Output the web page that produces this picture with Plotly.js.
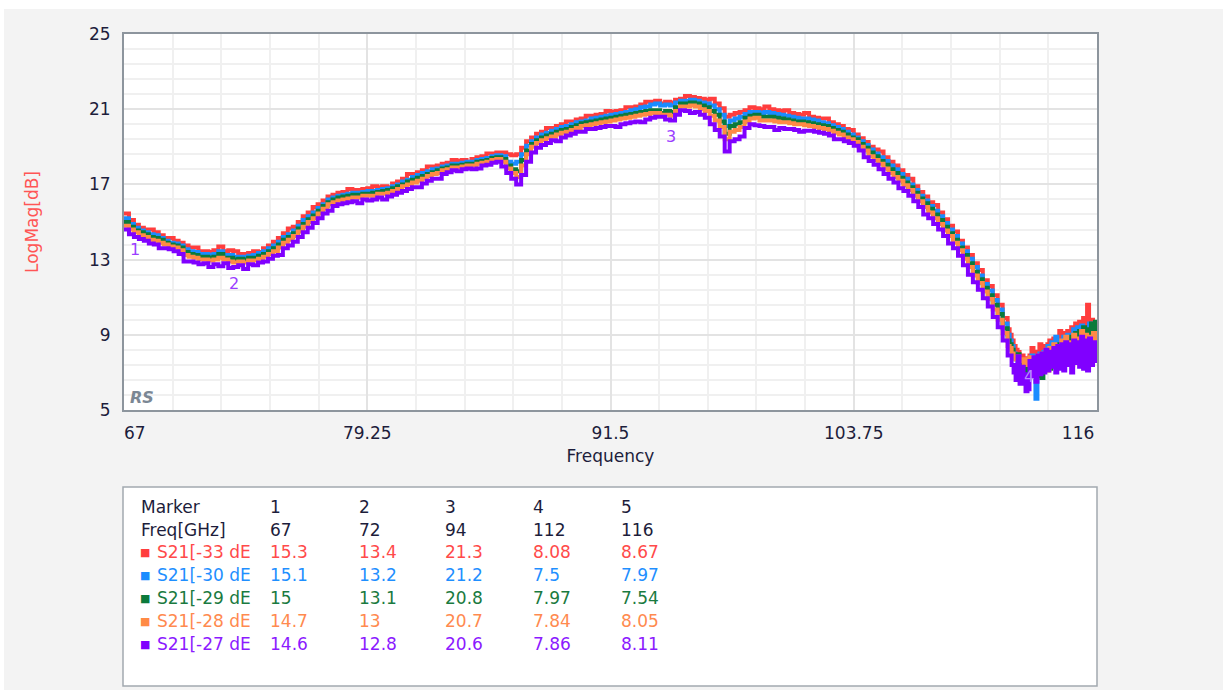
<!DOCTYPE html>
<html>
<head>
<meta charset="utf-8">
<script src="https://cdn.plot.ly/plotly-3.0.1.min.js"></script>
<style>
html,body{margin:0;padding:0;background:#ffffff;}
#chart{width:1223px;height:690px;}
</style>
</head>
<body>
<div id="chart"></div>
<script>
// ---- sweep definition (two segments: coarse main sweep, fine noisy tail) ----
const mainStart = 67, mainStep = 0.25;     // 67 .. 111.5
const tailStart = 111.6, tailStep = 0.1;   // 111.6 .. 116
const fMin = 67, fMax = 116;

// ---- trace values (dB) ----
const s21_m33_main = [
15.45,15.1,14.85,14.7,14.6,14.6,14.45,14.3,14.15,14.15,
14.0,13.9,13.75,13.65,13.65,13.45,13.45,13.4,13.5,13.7,
13.45,13.5,13.45,13.3,13.3,13.35,13.45,13.4,13.6,13.75,
13.95,14.15,14.4,14.65,14.75,15.0,15.3,15.5,15.8,15.95,
16.15,16.35,16.45,16.55,16.6,16.75,16.7,16.7,16.75,16.8,
16.9,16.85,16.9,16.85,17.05,17.15,17.3,17.55,17.55,17.65,
17.75,17.95,17.95,18.0,18.1,18.15,18.3,18.25,18.3,18.2,
18.35,18.45,18.5,18.65,18.65,18.7,18.7,18.6,18.55,18.6,
18.95,19.3,19.5,19.7,19.8,20.0,20.0,20.1,20.2,20.35,
20.35,20.45,20.5,20.65,20.65,20.7,20.75,20.9,20.85,20.9,
20.95,21.1,21.1,21.15,21.25,21.4,21.4,21.45,21.3,21.4,
21.35,21.5,21.55,21.7,21.65,21.6,21.55,21.5,21.55,21.3,
21.05,20.6,20.7,20.8,20.85,20.95,21.1,21.05,21.0,21.15,
21.0,20.95,20.9,20.95,20.8,20.75,20.7,20.8,20.6,20.55,
20.5,20.5,20.3,20.2,20.1,19.95,19.9,19.65,19.45,19.25,
19.0,18.85,18.75,18.45,18.2,18.0,17.75,17.5,17.3,16.9,
16.6,16.35,16.05,15.9,15.5,15.15,14.8,14.5,14.0,13.65,
13.25,12.8,12.45,11.9,11.6,11.1,10.6,9.9,9.3];
const s21_m33_tail = [
9.0,8.7,8.4,8.2,
8.08,7.8,7.9,7.7,7.75,7.6,7.9,8.3,7.8,8.1,
8.0,8.5,8.1,8.4,7.9,8.5,8.7,8.3,8.8,8.6,
8.7,9.2,8.8,9.1,8.5,9.2,9.0,9.4,8.7,9.6,
9.4,9.7,9.0,9.9,9.3,10.6,9.2,9.8,8.9,9.5,
8.67];

const s21_m30_main = [
15.2,14.9,14.7,14.55,14.45,14.35,14.3,14.15,14.0,13.9,
13.85,13.75,13.55,13.45,13.4,13.3,13.3,13.25,13.3,13.45,
13.25,13.25,13.15,13.15,13.15,13.2,13.25,13.35,13.45,13.6,
13.75,13.95,14.2,14.35,14.55,14.8,15.1,15.3,15.5,15.75,
15.95,16.2,16.3,16.4,16.45,16.5,16.55,16.55,16.6,16.65,
16.65,16.7,16.75,16.8,16.9,17.0,17.15,17.25,17.4,17.5,
17.6,17.7,17.8,17.85,17.95,18.0,18.1,18.1,18.15,18.2,
18.2,18.3,18.35,18.4,18.5,18.55,18.5,18.2,18.1,18.2,
18.6,19.05,19.3,19.5,19.65,19.75,19.85,19.95,20.05,20.1,
20.2,20.3,20.35,20.4,20.5,20.55,20.6,20.65,20.7,20.75,
20.8,20.85,20.95,21.0,21.1,21.15,21.25,21.3,21.2,21.25,
21.2,21.35,21.45,21.45,21.5,21.45,21.35,21.3,21.2,21.0,
20.7,20.1,20.4,20.5,20.6,20.75,20.85,20.85,20.8,20.85,
20.8,20.75,20.7,20.65,20.6,20.55,20.5,20.5,20.45,20.4,
20.3,20.25,20.15,20.05,19.95,19.8,19.65,19.5,19.3,19.1,
18.85,18.65,18.45,18.25,18.0,17.8,17.55,17.3,17.0,16.7,
16.4,16.15,15.85,15.6,15.3,14.95,14.6,14.25,13.85,13.45,
13.05,12.6,12.15,11.7,11.35,10.85,10.35,9.6,9.0];
const s21_m30_tail = [
8.7,8.4,8.0,7.8,
7.5,7.3,7.6,7.1,7.4,7.0,7.6,7.9,7.3,5.6,
7.6,8.0,7.5,8.1,7.7,8.4,8.0,8.6,8.2,8.9,
8.3,8.7,8.1,8.9,8.4,9.0,8.6,8.4,9.3,8.7,
9.4,8.8,9.5,8.6,9.3,8.5,9.6,8.8,9.2,8.4,
7.97];

const s21_m29_main = [
15.0,14.75,14.55,14.45,14.35,14.2,14.15,14.05,13.9,13.8,
13.75,13.65,13.4,13.3,13.25,13.15,13.15,13.1,13.15,13.3,
13.1,13.1,13.0,13.05,13.0,13.1,13.1,13.2,13.3,13.45,
13.6,13.8,14.05,14.2,14.4,14.65,14.9,15.15,15.35,15.6,
15.85,16.05,16.2,16.3,16.35,16.4,16.45,16.45,16.5,16.5,
16.55,16.6,16.65,16.7,16.8,16.9,17.0,17.15,17.25,17.35,
17.45,17.55,17.65,17.75,17.85,17.9,18.0,18.0,18.05,18.1,
18.1,18.2,18.25,18.3,18.4,18.45,18.35,18.0,17.8,17.7,
18.3,18.8,19.15,19.35,19.5,19.6,19.7,19.8,19.9,19.95,
20.05,20.15,20.25,20.3,20.35,20.4,20.45,20.5,20.55,20.6,
20.65,20.7,20.75,20.8,20.85,20.9,20.95,20.95,20.8,20.9,
20.85,21.1,21.3,21.3,21.35,21.3,21.2,21.1,20.9,20.7,
20.35,19.7,20.1,20.2,20.3,20.55,20.65,20.7,20.6,20.6,
20.6,20.55,20.5,20.45,20.4,20.35,20.35,20.3,20.25,20.2,
20.15,20.1,20.0,19.9,19.8,19.65,19.5,19.4,19.15,18.95,
18.7,18.5,18.25,18.05,17.8,17.6,17.35,17.1,16.85,16.55,
16.25,16.0,15.7,15.4,15.1,14.75,14.4,14.05,13.65,13.25,
12.8,12.35,11.95,11.5,11.1,10.6,10.1,9.35,8.7];
const s21_m29_tail = [
8.5,8.2,7.9,7.7,
7.97,7.4,7.2,7.5,7.0,7.3,6.9,7.6,7.1,7.5,
6.8,7.7,6.7,7.9,7.4,8.1,7.2,8.2,7.7,8.4,
7.8,8.5,7.9,8.6,8.1,8.8,8.0,8.9,8.3,9.1,
8.4,9.2,8.2,9.4,8.5,9.3,8.1,9.6,8.7,9.7,
7.54];

const s21_m28_main = [
14.8,14.6,14.45,14.3,14.2,14.05,14.0,13.9,13.8,13.7,
13.65,13.5,13.25,13.15,13.1,13.0,13.0,12.95,13.0,13.1,
13.0,12.9,12.85,12.9,12.85,12.95,12.95,13.05,13.15,13.3,
13.45,13.65,13.9,14.05,14.25,14.5,14.75,15.0,15.2,15.45,
15.7,15.95,16.05,16.15,16.2,16.25,16.3,16.3,16.4,16.4,
16.4,16.5,16.5,16.55,16.65,16.75,16.9,17.0,17.1,17.2,
17.3,17.45,17.55,17.6,17.75,17.8,17.9,17.9,17.95,18.0,
18.0,18.1,18.15,18.2,18.3,18.35,18.2,17.85,17.6,17.4,
18.0,18.6,19.0,19.2,19.35,19.45,19.55,19.65,19.75,19.8,
19.9,20.0,20.1,20.15,20.2,20.25,20.3,20.35,20.4,20.45,
20.5,20.55,20.6,20.65,20.7,20.75,20.8,20.8,20.7,20.7,
20.65,20.9,21.15,21.15,21.2,21.15,21.0,20.9,20.65,20.4,
20.05,19.4,19.8,19.9,20.05,20.35,20.5,20.55,20.4,20.4,
20.4,20.35,20.3,20.3,20.25,20.2,20.2,20.15,20.1,20.05,
20.0,19.95,19.85,19.75,19.65,19.5,19.4,19.25,19.0,18.8,
18.5,18.3,18.1,17.85,17.6,17.4,17.2,16.95,16.7,16.4,
16.1,15.8,15.5,15.2,14.9,14.55,14.25,13.9,13.5,13.05,
12.6,12.15,11.75,11.3,10.9,10.35,9.8,9.1,8.4];
const s21_m28_tail = [
8.3,8.0,7.8,7.7,
7.84,7.6,7.7,7.5,7.7,7.4,7.8,7.1,7.7,7.3,
7.9,7.2,8.0,7.4,8.2,7.1,8.3,7.6,8.5,7.3,
8.4,7.8,8.7,7.5,8.9,7.9,8.6,7.4,9.0,8.0,
8.8,7.6,9.2,8.1,9.0,7.5,8.9,7.9,9.1,8.3,
8.05];

const s21_m27_main = [
14.6,14.35,14.2,14.1,14.0,13.85,13.8,13.6,13.6,13.55,
13.45,13.3,12.9,12.9,12.85,12.75,12.8,12.6,12.75,12.65,
12.8,12.55,12.6,12.7,12.5,12.75,12.7,12.85,12.9,13.05,
13.2,13.25,13.6,13.75,13.95,14.2,14.45,14.7,14.95,15.2,
15.45,15.6,15.85,15.95,16.0,16.05,16.1,16.0,16.2,16.15,
16.2,16.3,16.2,16.35,16.45,16.55,16.65,16.75,16.85,16.85,
17.05,17.2,17.3,17.3,17.55,17.65,17.75,17.7,17.8,17.85,
17.8,17.85,18.0,18.05,18.15,18.2,17.95,17.6,17.3,17.0,
17.5,18.2,18.7,18.95,19.1,19.2,19.35,19.3,19.5,19.6,
19.7,19.8,19.8,19.95,19.95,20.0,20.05,20.1,20.1,20.05,
20.2,20.25,20.3,20.35,20.3,20.45,20.55,20.6,20.6,20.45,
20.4,20.7,20.95,20.9,20.8,20.85,20.7,20.55,20.2,19.9,
19.55,18.75,19.3,19.4,19.55,20.0,20.2,20.15,20.1,20.05,
20.05,19.9,20.0,19.95,19.95,19.9,19.8,19.85,19.85,19.8,
19.75,19.7,19.6,19.4,19.4,19.3,19.2,19.05,18.8,18.45,
18.25,18.05,17.8,17.55,17.3,17.1,16.8,16.65,16.4,16.1,
15.8,15.4,15.2,14.9,14.6,14.25,13.85,13.6,13.2,12.7,
12.2,11.8,11.4,10.95,10.5,9.95,9.4,8.7,7.9];
const s21_m27_tail = [
7.9,7.4,7.0,6.6,
7.86,6.4,7.3,6.9,6.0,6.1,7.6,6.8,7.8,6.5,
7.9,6.9,8.0,7.0,8.2,7.1,8.1,7.3,8.3,7.0,
8.4,7.2,8.5,7.1,8.6,7.4,8.5,7.0,8.7,7.5,
8.6,7.3,8.9,7.2,8.7,7.1,8.8,7.4,8.6,7.6,
8.11];

// ---- series names & colours ----
const seriesNames  = ['S21[-33 dE', 'S21[-30 dE', 'S21[-29 dE', 'S21[-28 dE', 'S21[-27 dE'];
const seriesColors = ['#ff3d3d', '#1a8cff', '#0b7a3b', '#ff8a45', '#8000ff'];
const textColors   = ['#ff4a4a', '#1f8fff', '#1a7a40', '#ff8a4f', '#8c1aff'];

// ---- markers ----
const markerLabels = [1, 2, 3, 4, 5];
const markerFreq   = [67, 72, 94, 112, 116];
const mk_m33 = [15.3, 13.4, 21.3, 8.08, 8.67];
const mk_m30 = [15.1, 13.2, 21.2, 7.5, 7.97];
const mk_m29 = [15, 13.1, 20.8, 7.97, 7.54];
const mk_m28 = [14.7, 13, 20.7, 7.84, 8.05];
const mk_m27 = [14.6, 12.8, 20.6, 7.86, 8.11];

// ---- axis ticks ----
const xTickVals = [67, 79.25, 91.5, 103.75, 116];
const yTickVals = [5, 9, 13, 17, 21, 25];

// ---------------------------------------------------------------
const seriesVals = [
  s21_m33_main.concat(s21_m33_tail),
  s21_m30_main.concat(s21_m30_tail),
  s21_m29_main.concat(s21_m29_tail),
  s21_m28_main.concat(s21_m28_tail),
  s21_m27_main.concat(s21_m27_tail)
];
const markerVals = [mk_m33, mk_m30, mk_m29, mk_m28, mk_m27];
const freq = [];
for (let i = 0; i < s21_m33_main.length; i++) freq.push(+(mainStart + i * mainStep).toFixed(3));
for (let j = 0; j < s21_m33_tail.length; j++) freq.push(+(tailStart + j * tailStep).toFixed(3));

const FONT = 'DejaVu Sans, Verdana, sans-serif';
const NAVY = '#1d1d3b';

const traces = seriesVals.map((vals, k) => ({
  type: 'scatter', mode: 'lines', x: freq, y: vals, name: seriesNames[k],
  line: {color: seriesColors[k], width: 4, shape: 'hv'},
  hoverinfo: 'skip', showlegend: false
}));

// pixel helpers for layout placement (plot area 124..1097 x 34..410)
const PL = 124, PR = 1097, PT = 34, PB = 410;
const xp = px => (px - PL) / (PR - PL);
const yp = py => (PB - py) / (PB - PT);

const nb = '\u00a0';
const xTickText = xTickVals.map((v, i) => {
  if (i === 0) return nb.repeat(4) + v;
  if (i === xTickVals.length - 1) return v + nb.repeat(7);
  return String(v);
});

const annotations = [];

// marker number labels below the top (last-drawn) trace
const mkLabelColors = ['#9a3dff', '#9a3dff', '#9a3dff', '#b98aff'];
for (let k = 0; k < 4; k++) {
  annotations.push({
    xref: 'x', yref: 'y', x: markerFreq[k], y: mk_m27[k],
    xshift: 11, yshift: -20, showarrow: false,
    text: String(markerLabels[k]),
    font: {family: FONT, size: 16, color: mkLabelColors[k]}
  });
}

// RS logo
annotations.push({
  xref: 'paper', yref: 'paper', x: xp(128), y: yp(397), xanchor: 'left', yanchor: 'middle',
  showarrow: false, text: '<b><i>RS</i></b>',
  font: {family: FONT, size: 16, color: '#7b8794'}
});

// marker table
const colX = [268, 357, 443, 531, 619];
const rowY = [507, 530, 552, 575, 598, 621, 644];
function cell(px, py, text, color, size) {
  annotations.push({
    xref: 'paper', yref: 'paper', x: xp(px), y: yp(py), xanchor: 'left', yanchor: 'middle',
    showarrow: false, text: text, font: {family: FONT, size: size || 17, color: color}
  });
}
cell(139, rowY[0], 'Marker', NAVY);
cell(139, rowY[1], 'Freq[GHz]', NAVY);
markerLabels.forEach((m, c) => cell(colX[c], rowY[0], String(m), NAVY));
markerFreq.forEach((f, c) => cell(colX[c], rowY[1], String(f), NAVY));
seriesNames.forEach((name, r) => {
  cell(138, rowY[r + 2], '■', seriesColors[r], 11);
  cell(155, rowY[r + 2], name, textColors[r]);
  markerVals[r].forEach((v, c) => cell(colX[c], rowY[r + 2], String(v), textColors[r]));
});

const shapes = [
  {type: 'rect', xref: 'paper', yref: 'paper', x0: xp(0), x1: xp(1223), y0: yp(9), y1: yp(0),
   fillcolor: '#ffffff', line: {width: 0}, layer: 'below'},
  {type: 'rect', xref: 'paper', yref: 'paper', x0: xp(0), x1: xp(4), y0: yp(690), y1: yp(0),
   fillcolor: '#ffffff', line: {width: 0}, layer: 'below'},
  {type: 'rect', xref: 'paper', yref: 'paper', x0: xp(123), x1: xp(1097), y0: yp(686), y1: yp(487),
   fillcolor: '#ffffff', line: {color: '#a2a9b0', width: 1.5}, layer: 'below'}
];

const layout = {
  width: 1223, height: 690,
  margin: {l: PL, r: 1223 - PR, t: PT, b: 690 - PB, pad: 0},
  paper_bgcolor: '#f3f3f3', plot_bgcolor: '#ffffff',
  showlegend: false,
  xaxis: {
    range: [fMin, fMax], tickvals: xTickVals, ticktext: xTickText,
    ticks: 'outside', ticklen: 7, tickcolor: 'rgba(0,0,0,0)',
    tickfont: {family: FONT, size: 17, color: NAVY},
    showgrid: true, gridcolor: '#e3e3e3', gridwidth: 2,
    minor: {dtick: (fMax - fMin) / 20, tick0: fMin, showgrid: true, gridcolor: '#f0f0f0', gridwidth: 2, ticks: ''},
    showline: true, mirror: true, linecolor: '#8d959d', linewidth: 2, zeroline: false,
    title: {text: 'Frequency', standoff: 8, font: {family: FONT, size: 17, color: NAVY}},
    automargin: false, fixedrange: true
  },
  yaxis: {
    range: [5, 25], tickvals: yTickVals,
    ticks: 'outside', ticklen: 8, tickcolor: 'rgba(0,0,0,0)',
    tickfont: {family: FONT, size: 17, color: NAVY},
    showgrid: true, gridcolor: '#e3e3e3', gridwidth: 2,
    minor: {dtick: 0.8, tick0: 5, showgrid: true, gridcolor: '#f0f0f0', gridwidth: 2, ticks: ''},
    showline: true, mirror: true, linecolor: '#8d959d', linewidth: 2, zeroline: false,
    title: {text: 'LogMag[dB]', standoff: 46, font: {family: FONT, size: 17, color: '#ff5555'}},
    automargin: false, fixedrange: true
  },
  annotations: annotations,
  shapes: shapes
};

Plotly.newPlot('chart', traces, layout, {displayModeBar: false, staticPlot: true});
</script>
</body>
</html>
